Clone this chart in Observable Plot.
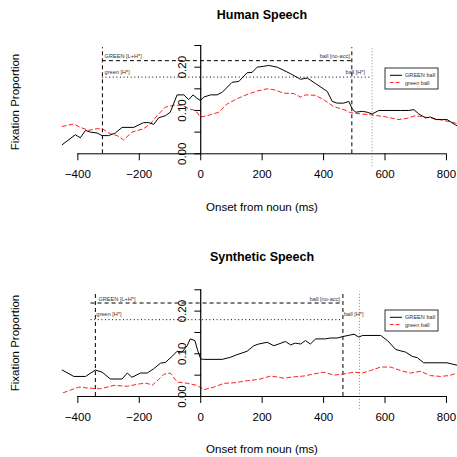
<!DOCTYPE html>
<html><head><meta charset="utf-8">
<script src="https://cdn.jsdelivr.net/npm/d3@7"></script>
<script src="https://cdn.jsdelivr.net/npm/@observablehq/plot@0.6"></script>
<style>
body{margin:0;background:#fff;}
svg{display:block;}
</style>
</head><body><div id="chart"></div>
<script>
// ---------- data ----------
const xTicks = [-400, -200, 0, 200, 400, 600, 800];
const yTicks = [0, 0.05, 0.10, 0.15, 0.20, 0.25];
const yTickLabels = [0, 0.10, 0.20];
const seriesNames = ["GREEN ball", "green ball"];
const panelTitles = ["Human Speech", "Synthetic Speech"];
const xLabel = "Onset from noun (ms)";
const yLabel = "Fixation Proportion";

// Human speech
const humanGreenT = [-451,-408,-392,-375,-359,-337,-321,-300,-278,-256,-218,-186,-169,-153,-137,-115,-99,-77,-55,-39,-25,-12,-1,10,32,53,70,102,124,151,167,184,205,221,249,292,325,347,374,395,412,428,444,466,482,493,504,526,542,558,580,650,677,694,710,732,748,764,786,802,829,836];
const humanGreenV = [0.021,0.044,0.037,0.054,0.050,0.048,0.042,0.042,0.048,0.061,0.061,0.072,0.072,0.068,0.083,0.088,0.096,0.136,0.136,0.125,0.136,0.128,0.123,0.131,0.136,0.136,0.142,0.165,0.167,0.187,0.188,0.200,0.202,0.204,0.200,0.185,0.172,0.175,0.162,0.152,0.144,0.121,0.117,0.117,0.121,0.104,0.096,0.098,0.096,0.092,0.100,0.100,0.100,0.102,0.092,0.083,0.085,0.079,0.079,0.079,0.067,0.064];
const humanRedT = [-451,-413,-392,-365,-337,-321,-294,-272,-251,-224,-186,-164,-142,-115,-88,-61,-39,-17,-1,21,59,86,118,151,184,216,238,270,303,325,341,374,400,433,466,487,520,553,596,645,672,699,726,759,791,829,836];
const humanRedV = [0.063,0.069,0.061,0.054,0.058,0.058,0.046,0.042,0.032,0.050,0.058,0.069,0.088,0.108,0.112,0.112,0.104,0.100,0.085,0.088,0.096,0.115,0.127,0.137,0.145,0.150,0.148,0.140,0.139,0.131,0.136,0.135,0.125,0.109,0.102,0.095,0.092,0.090,0.086,0.079,0.082,0.088,0.085,0.082,0.077,0.071,0.070];
const humanVLines = [-320, 492, 558];            // GREEN onset, ball [no-acc], ball [H*]
const humanHLineY = [0.215, 0.177];              // dashed, dotted
const humanHLineX1 = [-320, -320];
const humanHLineX2 = [492, 558];
const humanLabelText = ["GREEN [L+H*]", "green [H*]", "ball [no-acc]", "ball [H*]"];
const humanLabelX = [-313, -313, 492, 558];
const humanLabelY = [0.226, 0.188, 0.226, 0.188];

// Synthetic speech
const synthGreenT = [-451,-413,-375,-343,-321,-294,-256,-239,-224,-196,-174,-153,-131,-115,-93,-77,-61,-44,-34,-19,-10,0,9,70,97,118,151,173,189,216,238,254,276,292,308,325,341,357,374,406,422,444,466,487,499,515,526,586,608,635,667,689,705,726,802,836];
const synthGreenV = [0.062,0.047,0.047,0.062,0.057,0.041,0.041,0.055,0.045,0.055,0.055,0.065,0.078,0.080,0.094,0.106,0.104,0.119,0.135,0.131,0.108,0.088,0.087,0.087,0.092,0.098,0.106,0.119,0.123,0.127,0.119,0.123,0.129,0.121,0.125,0.123,0.131,0.123,0.135,0.135,0.137,0.137,0.141,0.144,0.146,0.139,0.143,0.143,0.131,0.110,0.104,0.094,0.091,0.079,0.079,0.073];
const synthRedT = [-447,-397,-370,-327,-283,-239,-196,-174,-158,-137,-120,-99,-77,-44,-12,10,43,76,108,151,189,228,271,304,336,369,401,434,466,499,526,553,586,618,650,683,716,748,781,808,836];
const synthRedV = [0.009,0.022,0.020,0.018,0.026,0.024,0.030,0.031,0.026,0.040,0.052,0.055,0.034,0.031,0.026,0.016,0.022,0.031,0.032,0.037,0.040,0.048,0.043,0.046,0.048,0.053,0.057,0.050,0.053,0.057,0.055,0.061,0.069,0.069,0.061,0.055,0.059,0.049,0.047,0.049,0.055];
const synthVLines = [-343, 463, 517];
const synthHLineY = [0.219, 0.180];
const synthHLineX1 = [-357, -357];
const synthHLineX2 = [463, 463];
const synthLabelText = ["GREEN [L+H*]", "green [H*]", "ball [no-acc]", "ball [H*]"];
const synthLabelX = [-333, -340, 463, 463];
const synthLabelY = [0.229, 0.192, 0.229, 0.192];

// ---------- drawing ----------
const FONT = "'Liberation Sans', Arial, Helvetica, sans-serif";
const W = 457;

function pairs(T, V) { return T.map((t, i) => ({t, v: V[i]})); }

function makePanel(cfg) {
  const green = pairs(cfg.greenT, cfg.greenV);
  const red = pairs(cfg.redT, cfg.redV);
  const hl = cfg.hY.map((y, i) => ({y, x1: cfg.hX1[i], x2: cfg.hX2[i], i}));
  const labels = cfg.lText.map((s, i) => ({s, x: cfg.lX[i], y: cfg.lY[i], i}));
  const chart = Plot.plot({
    width: W, height: cfg.height,
    marginLeft: 62, marginRight: 0, marginTop: cfg.marginTop, marginBottom: cfg.marginBottom,
    x: {domain: [-450, 836], axis: null},
    y: {domain: [0, 0.25], axis: null},
    style: {fontFamily: FONT, background: "white", overflow: "visible", color: "black"},
    marks: [
      // reference verticals
      Plot.ruleX([cfg.vLines[0], cfg.vLines[1]], {x: d => d, y1: 0, y2: 0.245, stroke: "black", strokeWidth: 1, strokeDasharray: "4,3"}),
      Plot.ruleX([cfg.vLines[2]], {x: d => d, y1: -0.03, y2: 0.245, stroke: "#888", strokeWidth: 1, strokeDasharray: "1,2"}),
      // reference horizontals
      Plot.ruleY(hl.filter(d => d.i === 0), {y: "y", x1: "x1", x2: "x2", stroke: "black", strokeWidth: 1, strokeDasharray: "4,3"}),
      Plot.ruleY(hl.filter(d => d.i === 1), {y: "y", x1: "x1", x2: "x2", stroke: "black", strokeWidth: 1, strokeDasharray: "1,2.6"}),
      // annotation labels
      Plot.text(labels.filter(d => d.i < 2), {x: "x", y: "y", text: "s", textAnchor: "start", fontSize: 5.6, fill: "#333"}),
      Plot.text(labels.filter(d => d.i === 2), {x: "x", y: "y", text: "s", textAnchor: cfg.lastAnchor[0], dx: cfg.lastDx[0], fontSize: 5.6, fill: "#333"}),
      Plot.text(labels.filter(d => d.i === 3), {x: "x", y: "y", text: "s", textAnchor: cfg.lastAnchor[1], dx: cfg.lastDx[1], fontSize: 5.6, fill: "#333"}),
      // data
      Plot.line(red, {x: "t", y: "v", stroke: "#ff2020", strokeWidth: 1, strokeDasharray: "4,3"}),
      Plot.line(green, {x: "t", y: "v", stroke: "black", strokeWidth: 1}),
      // x axis
      Plot.ruleY([0], {x1: xTicks[0], x2: xTicks[xTicks.length - 1], stroke: "black", strokeWidth: 1}),
      Plot.axisX(xTicks, {anchor: "bottom", tickSize: 7, tickPadding: cfg.tickPad, fontSize: 11.5, label: null, stroke: "black", fill: "black"}),
      // y axis at x = 0
      Plot.ruleX([0], {y1: 0, y2: 0.25, stroke: "black", strokeWidth: 1.2}),
      Plot.vector(yTicks, {x: 0, y: d => d, length: 6, rotate: -90, anchor: "start", stroke: "black", strokeWidth: 1,
        shape: {draw(ctx, l) { ctx.moveTo(0, 0); ctx.lineTo(0, -l); }}}),
      Plot.text(yTickLabels, {x: 0, y: d => d, text: d => d.toFixed(2), rotate: -90, dx: -18.5, fontSize: 11.5, textAnchor: "middle", lineAnchor: "middle", fill: "black"})
    ]
  });
  const svg = d3.select(chart);
  // title
  svg.append("text").attr("x", 262).attr("y", cfg.titleY).attr("text-anchor", "middle").attr("dominant-baseline", "central")
    .attr("font-family", FONT).attr("font-weight", "bold").attr("font-size", 12.5).text(cfg.title);
  // x label
  svg.append("text").attr("x", 262).attr("y", cfg.xLabY).attr("text-anchor", "middle").attr("dominant-baseline", "central")
    .attr("font-family", FONT).attr("font-size", 11.5).text(xLabel);
  // y label
  svg.append("text").attr("transform", `translate(15,${cfg.yLabY}) rotate(-90)`).attr("text-anchor", "middle").attr("dominant-baseline", "central")
    .attr("font-family", FONT).attr("font-size", 11.5).text(yLabel);
  // legend
  const lg = svg.append("g").attr("transform", `translate(385,${cfg.legY})`);
  lg.append("rect").attr("x", 0).attr("y", 0).attr("width", 53).attr("height", 21).attr("fill", "white").attr("stroke", "black").attr("stroke-width", 0.8);
  const styles = [{stroke: "black", dash: null}, {stroke: "#ff2020", dash: "3.5,2.5"}];
  seriesNames.forEach((name, i) => {
    const yy = 7.3 + i * 7.2;
    lg.append("line").attr("x1", 5).attr("x2", 17).attr("y1", yy).attr("y2", yy)
      .attr("stroke", styles[i].stroke).attr("stroke-width", 1).attr("stroke-dasharray", styles[i].dash);
    lg.append("text").attr("x", 20).attr("y", yy).attr("text-anchor", "start").attr("dominant-baseline", "central")
      .attr("font-family", FONT).attr("font-size", 5.6).attr("fill", "#333").text(name);
  });
  return chart;
}

const root = document.getElementById("chart");
root.appendChild(makePanel({
  title: panelTitles[0], height: 230, marginTop: 45, marginBottom: 76.7, tickPad: 9,
  greenT: humanGreenT, greenV: humanGreenV, redT: humanRedT, redV: humanRedV,
  vLines: humanVLines, hY: humanHLineY, hX1: humanHLineX1, hX2: humanHLineX2,
  lText: humanLabelText, lX: humanLabelX, lY: humanLabelY,
  lastAnchor: ["end", "end"], lastDx: [-2, -7],
  titleY: 15, xLabY: 207, yLabY: 102, legY: 68
}));
root.appendChild(makePanel({
  title: panelTitles[1], height: 227, marginTop: 59.3, marginBottom: 61, tickPad: 9,
  greenT: synthGreenT, greenV: synthGreenV, redT: synthRedT, redV: synthRedV,
  vLines: synthVLines, hY: synthHLineY, hX1: synthHLineX1, hX2: synthHLineX2,
  lText: synthLabelText, lX: synthLabelX, lY: synthLabelY,
  lastAnchor: ["end", "start"], lastDx: [-3, 1],
  titleY: 27, xLabY: 219, yLabY: 113, legY: 80
}));
</script>
</body></html>
